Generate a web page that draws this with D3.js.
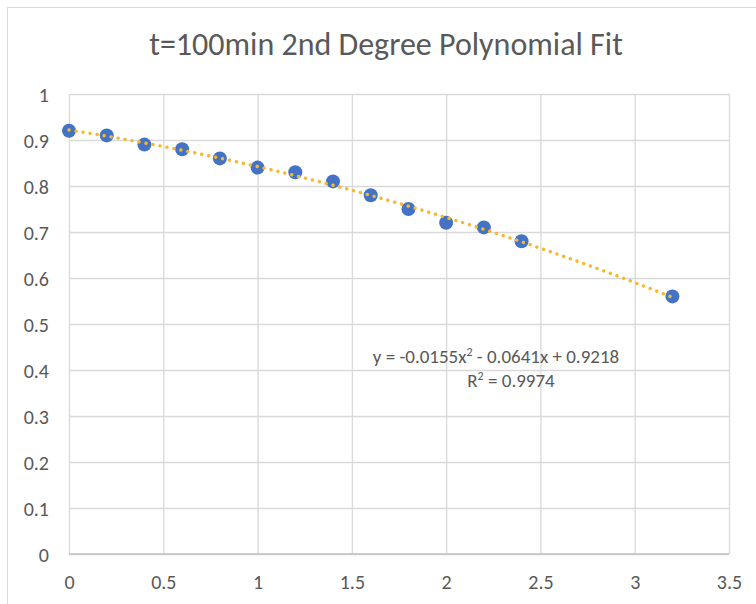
<!DOCTYPE html>
<html>
<head>
<meta charset="utf-8">
<script src="https://cdn.jsdelivr.net/npm/d3@7"></script>
<style>
  html, body { margin: 0; padding: 0; background: #fff; }
  svg { display: block; }
  text { font-family: Carlito, Lato, "Open Sans", sans-serif; fill: #595959; }
</style>
</head>
<body>
<svg id="chart" width="756" height="604"></svg>
<script>
// Measured concentration ratio over distance (t = 100 min)
const xValues = [0, 0.2, 0.4, 0.6, 0.8, 1.0, 1.2, 1.4, 1.6, 1.8, 2.0, 2.2, 2.4, 3.2];
const yValues = [0.92, 0.91, 0.89, 0.88, 0.86, 0.84, 0.83, 0.81, 0.78, 0.75, 0.72, 0.71, 0.68, 0.56];

// Second-degree polynomial fit coefficients: y = a x^2 + b x + c
const fitCoeffs = [-0.0155, -0.0641, 0.9218];
const rSquared = 0.9974;

const xTicks = [0, 0.5, 1, 1.5, 2, 2.5, 3, 3.5];
const yTicks = [0, 0.1, 0.2, 0.3, 0.4, 0.5, 0.6, 0.7, 0.8, 0.9, 1];

const titleText = "t=100min 2nd Degree Polynomial Fit";

const svg = d3.select("#chart");
const plot = { left: 69, right: 729, top: 94, bottom: 554 };

const x = d3.scaleLinear().domain([0, 3.5]).range([plot.left, plot.right]);
const y = d3.scaleLinear().domain([0, 1]).range([plot.bottom, plot.top]);

// Chart frame
svg.append("rect")
  .attr("x", 7.5).attr("y", 7.5)
  .attr("width", 780).attr("height", 620)
  .attr("fill", "#fff").attr("stroke", "#d9d9d9").attr("stroke-width", 1);

// Title
svg.append("text")
  .attr("x", 386).attr("y", 55)
  .attr("text-anchor", "middle")
  .attr("font-size", 32)
  .text(titleText);

// Horizontal gridlines + y labels
const yAxis = d3.axisLeft(y).tickValues(yTicks)
  .tickSize(-(plot.right - plot.left)).tickPadding(20)
  .tickFormat(d => d3.format("")(+d.toFixed(1)));
const gy = svg.append("g").attr("transform", `translate(${plot.left},0)`).call(yAxis);
gy.select(".domain").remove();
gy.selectAll(".tick line").attr("stroke", "#d9d9d9").attr("stroke-width", 1.3);
gy.selectAll(".tick text").attr("font-size", 20).attr("fill", "#595959").attr("dy", "0.35em");

// Vertical gridlines + x labels
const xAxis = d3.axisBottom(x).tickValues(xTicks)
  .tickSize(-(plot.bottom - plot.top)).tickPadding(21)
  .tickFormat(d => d3.format("")(d));
const gx = svg.append("g").attr("transform", `translate(0,${plot.bottom})`).call(xAxis);
gx.select(".domain").remove();
gx.selectAll(".tick line").attr("stroke", "#d9d9d9").attr("stroke-width", 1.3);
gx.selectAll(".tick text").attr("font-size", 20).attr("fill", "#595959");

// Baseline
svg.append("line")
  .attr("x1", plot.left).attr("x2", plot.right)
  .attr("y1", y(0)).attr("y2", y(0))
  .attr("stroke", "#bfbfbf").attr("stroke-width", 1.3);

// Data points
svg.append("g").selectAll("circle")
  .data(xValues.map((v, i) => [v, yValues[i]]))
  .join("circle")
  .attr("cx", d => x(d[0])).attr("cy", d => y(d[1]))
  .attr("r", 7)
  .attr("fill", "#4472c4");

// Polynomial trendline (dotted), drawn over the markers
const fit = t => fitCoeffs[0] * t * t + fitCoeffs[1] * t + fitCoeffs[2];
const xs = d3.range(0, 3.2 + 1e-9, 0.05);
svg.append("path")
  .datum(xs)
  .attr("d", d3.line().x(t => x(t)).y(t => y(fit(t))))
  .attr("fill", "none")
  .attr("stroke", "#f5b82e")
  .attr("stroke-width", 3.4)
  .attr("stroke-linecap", "round")
  .attr("stroke-dasharray", "0.1 7");

// Equation label
svg.append("text")
  .attr("x", 496).attr("y", 363)
  .attr("text-anchor", "middle")
  .attr("font-size", 19)
  .call(t => {
    t.append("tspan").text(`y = ${fitCoeffs[0]}x`);
    t.append("tspan").attr("font-size", 12).attr("dy", -7).text("2");
    t.append("tspan").attr("dy", 7).text(` - ${Math.abs(fitCoeffs[1])}x + ${fitCoeffs[2]}`);
  });
svg.append("text")
  .attr("x", 511).attr("y", 387)
  .attr("text-anchor", "middle")
  .attr("font-size", 19)
  .call(t => {
    t.append("tspan").text("R");
    t.append("tspan").attr("font-size", 12).attr("dy", -7).text("2");
    t.append("tspan").attr("dy", 7).text(` = ${rSquared}`);
  });
</script>
</body>
</html>
